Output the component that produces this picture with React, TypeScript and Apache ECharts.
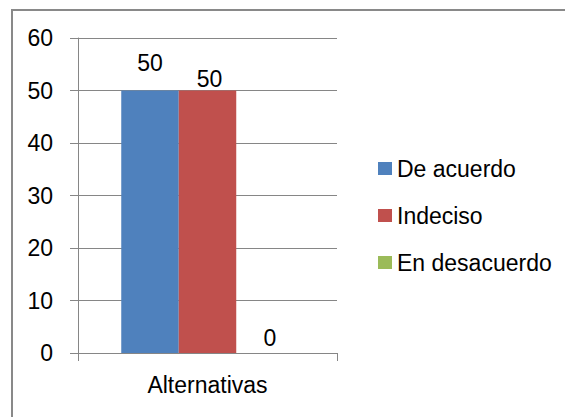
import React, { useEffect, useRef } from "react";
import * as echarts from "echarts";

const categories = ["Alternativas"];
const seriesNames = ["De acuerdo", "Indeciso", "En desacuerdo"];
const seriesValues = [[50], [50], [0]];
const seriesColors = ["#4F81BD", "#C0504D", "#9BBB59"];
const labelDistances = [16, 0, 4];
const labelOffsetsX = [0, 2, 5];

const FONT = "'Liberation Sans', Arial, sans-serif";
const FS = 23;

export default function App() {
  const ref = useRef<HTMLDivElement>(null);
  useEffect(() => {
    document.body.style.margin = "0";
    const chart = echarts.init(ref.current!, null, { renderer: "svg" });
    chart.setOption({
      animation: false,
      backgroundColor: "#ffffff",
      textStyle: { fontFamily: FONT },
      graphic: [
        {
          type: "rect",
          shape: { x: 12, y: 10, width: 620, height: 480 },
          style: { fill: "none", stroke: "#898989", lineWidth: 2 },
          silent: true,
        },
      ],
      grid: { left: 78, right: 228, top: 38, bottom: 64, containLabel: false },
      legend: {
        orient: "vertical",
        left: 373,
        top: 152,
        itemWidth: 14,
        itemHeight: 13,
        itemGap: 24,
        icon: "rect",
        data: seriesNames,
        textStyle: { fontSize: FS, color: "#000", fontFamily: FONT },
      },
      xAxis: {
        type: "category",
        data: categories,
        axisLine: { lineStyle: { color: "#868686", width: 1 } },
        axisTick: { show: true, length: 8, lineStyle: { color: "#868686" } },
        axisLabel: { fontSize: FS, color: "#000", margin: 20, fontFamily: FONT },
      },
      yAxis: {
        type: "value",
        min: 0,
        max: 60,
        interval: 10,
        axisLine: { show: true, lineStyle: { color: "#868686", width: 1 } },
        axisTick: { show: true, length: 8, lineStyle: { color: "#868686" } },
        splitLine: { show: true, lineStyle: { color: "#868686", width: 1 } },
        axisLabel: { fontSize: FS, color: "#000", margin: 25, fontFamily: FONT },
      },
      series: seriesNames.map((name, i) => ({
        name,
        type: "bar",
        data: seriesValues[i],
        barGap: "0%",
        barCategoryGap: "33.4%",
        itemStyle: { color: seriesColors[i] },
        label: {
          show: true,
          position: "top",
          distance: labelDistances[i],
          offset: [labelOffsetsX[i], 0],
          fontSize: FS,
          color: "#000",
          fontFamily: FONT,
        },
      })),
    });
    return () => chart.dispose();
  }, []);
  return <div ref={ref} style={{ width: 565, height: 417 }} />;
}
